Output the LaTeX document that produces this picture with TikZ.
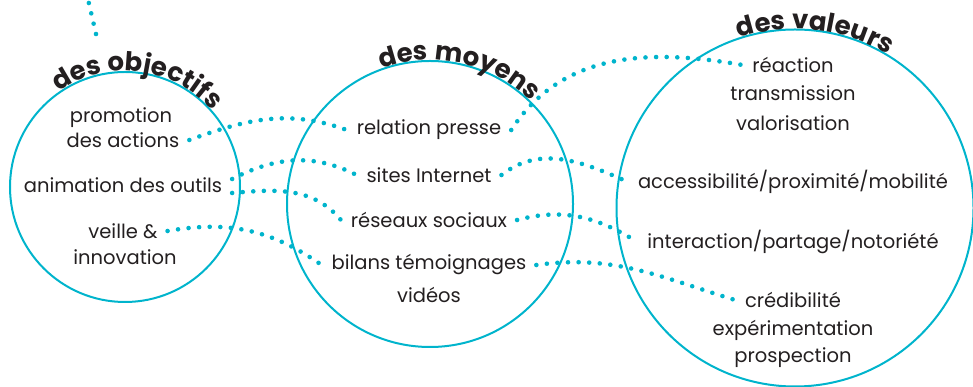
\documentclass[tikz,border=0pt]{standalone}
\usepackage{fontspec}
\setmainfont{Poppins}
\usetikzlibrary{decorations.text}

\definecolor{bleu}{RGB}{0,180,204}
\definecolor{encre}{RGB}{35,31,32}

\tikzset{
  rond/.style={circle,draw=bleu,line width=2pt,minimum size=#1},
  mot/.style={text=encre,font=\fontsize{19.5}{23}\selectfont,inner sep=2pt,outer sep=8pt},
  pointille/.style={draw=bleu,line width=4.6pt,line cap=round,dash pattern=on 0pt off 10.6pt},
  titre/.style={decorate,decoration={text along path,text align=center,
      text={|\fontsize{26}{26}\selectfont\bfseries\color{encre}|#1}}}
}

\begin{document}
\begin{tikzpicture}[x=1pt,y=1pt]
    \useasboundingbox (0,0) rectangle (973,387);

        % Circles
        \node[rond=230] (objectifs) at (125,200) {};
        \node[rond=286] (moyens) at (430,183) {};
        \node[rond=357] (valeurs) at (795,179) {};

        % Titles along the circles
        \path[titre={des objectifs}] ([shift={(143:116)}]objectifs.center) arc[start angle=143,end angle=23,radius=116];
        \path[titre={des moyens}] ([shift={(137.5:144)}]moyens.center) arc[start angle=137.5,end angle=17.5,radius=144];
        \path[titre={des valeurs}] ([shift={(143.5:179)}]valeurs.center) arc[start angle=143.5,end angle=23.5,radius=179];

        % Objectifs
        \node[mot] (promo) at (121,269) {promotion};
        \node[mot] (actions) at (123,247) {des actions};
        \node[mot] (outils) at (123,202) {animation des outils};
        \node[mot] (veille) at (123,156) {veille \&};
        \node[mot] (innov) at (125,130) {innovation};

        % Moyens
        \node[mot] (presse) at (429,257) {relation presse};
        \node[mot] (internet) at (429,212) {sites Internet};
        \node[mot] (reseaux) at (429,167) {réseaux sociaux};
        \node[mot] (bilans) at (429,122) {bilans témoignages};
        \node[mot] (videos) at (429,92) {vidéos};

        % Valeurs
        \node[mot] (reaction) at (793,322) {réaction};
        \node[mot] (transm) at (793,294) {transmission};
        \node[mot] (valor) at (793,264) {valorisation};
        \node[mot] (access) at (793,205) {accessibilité/proximité/mobilité};
        \node[mot] (interact) at (793,145) {interaction/partage/notoriété};
        \node[mot] (credib) at (793,87) {crédibilité};
        \node[mot] (experim) at (793,57) {expérimentation};
        \node[mot] (prospect) at (793,29) {prospection};

        % Dotted links
        \coordinate (entree) at (87,392);
        \coordinate (depart) at (96,353);
        \draw[pointille] (depart) -- (entree);

        \draw[pointille] (actions.east) to[out=20,in=160] (presse.west);
        \draw[pointille] ([yshift=6pt]outils.east) to[out=27,in=153] (internet.west);
        \draw[pointille] ([yshift=-8pt]outils.east) to[out=5,in=130] (reseaux.west);
        \draw[pointille] (veille.east) to[out=10,in=145] (bilans.west);

        \draw[pointille] (presse.east) to[out=57,in=170] (reaction.west);
        \draw[pointille] (internet.east) to[out=38,in=156] (access.west);
        \draw[pointille] (reseaux.east) to[out=15,in=148] (interact.west);
        \draw[pointille] (bilans.east) to[out=8,in=163] (credib.west);

    \end{tikzpicture}
\end{document}
